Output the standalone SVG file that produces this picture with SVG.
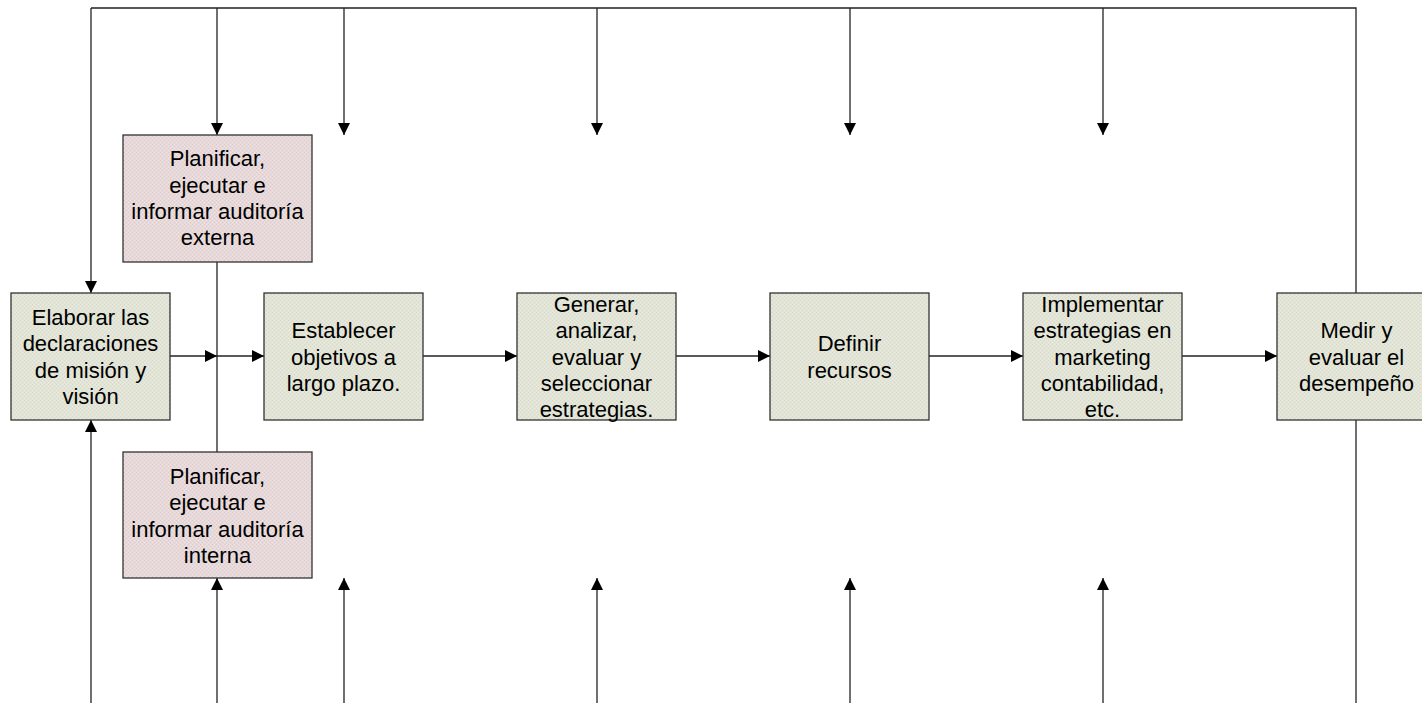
<svg xmlns="http://www.w3.org/2000/svg" width="1422" height="703" viewBox="0 0 1422 703">
  <defs>
    <!-- fine dotted fills for the process boxes -->
    <pattern id="dotsGreen" width="4" height="4" patternUnits="userSpaceOnUse">
      <rect width="4" height="4" fill="#e1e4d6"/>
      <rect x="0" y="0" width="1" height="1" fill="#d5dbc4"/>
      <rect x="2" y="2" width="1" height="1" fill="#d5dbc4"/>
      <rect x="2" y="0" width="1" height="1" fill="#eaece2"/>
      <rect x="0" y="2" width="1" height="1" fill="#eaece2"/>
    </pattern>
    <pattern id="dotsPink" width="4" height="4" patternUnits="userSpaceOnUse">
      <rect width="4" height="4" fill="#e7d9d9"/>
      <rect x="0" y="0" width="1" height="1" fill="#ddcaca"/>
      <rect x="2" y="2" width="1" height="1" fill="#ddcaca"/>
      <rect x="2" y="0" width="1" height="1" fill="#efe5e5"/>
      <rect x="0" y="2" width="1" height="1" fill="#efe5e5"/>
    </pattern>
    <marker id="arrow" markerWidth="12" markerHeight="12" refX="12" refY="6" orient="auto" markerUnits="userSpaceOnUse">
      <path d="M0,0 L12,6 L0,12 z" fill="#000"/>
    </marker>
  </defs>
  <style>
    .box-g { fill: url(#dotsGreen); stroke: #333; stroke-width: 1.3; }
    .box-p { fill: url(#dotsPink); stroke: #333; stroke-width: 1.3; }
    .lbl { font-family: "Liberation Sans", Arial, sans-serif; font-size: 22px; fill: #000; text-anchor: middle; }
    .ln { fill: none; stroke: #222; stroke-width: 1.3; }
    .arr { marker-end: url(#arrow); }
  </style>

  <rect width="1422" height="703" fill="#fff"/>

  <!-- connectors -->
  <g id="connectors">
    <!-- outer feedback frame -->
    <path class="ln" d="M91,8 H1356 V293" stroke="#000"/>
    <path class="ln arr" d="M91,8 V293"/>
    <path class="ln arr" d="M91,703 V420"/>
    <path class="ln" d="M1356,420 V703"/>
    <!-- drops from the top line -->
    <path class="ln arr" d="M217,8 V135"/>
    <path class="ln arr" d="M344,8 V135"/>
    <path class="ln arr" d="M597,8 V135"/>
    <path class="ln arr" d="M850,8 V135"/>
    <path class="ln arr" d="M1103,8 V135"/>
    <!-- rises from the bottom -->
    <path class="ln arr" d="M217,703 V578"/>
    <path class="ln arr" d="M344,703 V578"/>
    <path class="ln arr" d="M597,703 V578"/>
    <path class="ln arr" d="M850,703 V578"/>
    <path class="ln arr" d="M1103,703 V578"/>
    <!-- audit link between the two audit boxes -->
    <path class="ln" d="M217,262 V452"/>
    <!-- main process flow -->
    <path class="ln arr" d="M170,356 H217"/>
    <path class="ln arr" d="M217,356 H264"/>
    <path class="ln arr" d="M423,356 H517"/>
    <path class="ln arr" d="M676,356 H770"/>
    <path class="ln arr" d="M929,356 H1023"/>
    <path class="ln arr" d="M1182,356 H1277"/>
  </g>

  <g id="mision-vision">
    <rect class="box-g" x="11" y="293" width="159" height="127"/>
    <text class="lbl" x="90.5" y="325">Elaborar las</text>
    <text class="lbl" x="90.5" y="351">declaraciones</text>
    <text class="lbl" x="90.5" y="378">de misión y</text>
    <text class="lbl" x="90.5" y="404">visión</text>
  </g>

  <g id="auditoria-externa">
    <rect class="box-p" x="123" y="135" width="189" height="127"/>
    <text class="lbl" x="217.5" y="166">Planificar,</text>
    <text class="lbl" x="217.5" y="192.5">ejecutar e</text>
    <text class="lbl" x="217.5" y="219">informar auditoría</text>
    <text class="lbl" x="217.5" y="245">externa</text>
  </g>

  <g id="auditoria-interna">
    <rect class="box-p" x="123" y="452" width="189" height="126"/>
    <text class="lbl" x="217.5" y="484">Planificar,</text>
    <text class="lbl" x="217.5" y="510">ejecutar e</text>
    <text class="lbl" x="217.5" y="536.5">informar auditoría</text>
    <text class="lbl" x="217.5" y="563">interna</text>
  </g>

  <g id="objetivos">
    <rect class="box-g" x="264" y="293" width="159" height="127"/>
    <text class="lbl" x="343.5" y="338">Establecer</text>
    <text class="lbl" x="343.5" y="364.5">objetivos a</text>
    <text class="lbl" x="343.5" y="391">largo plazo.</text>
  </g>

  <g id="estrategias">
    <rect class="box-g" x="517" y="293" width="159" height="127"/>
    <text class="lbl" x="596.5" y="312">Generar,</text>
    <text class="lbl" x="596.5" y="338">analizar,</text>
    <text class="lbl" x="596.5" y="364.5">evaluar y</text>
    <text class="lbl" x="596.5" y="391">seleccionar</text>
    <text class="lbl" x="596.5" y="417">estrategias.</text>
  </g>

  <g id="recursos">
    <rect class="box-g" x="770" y="293" width="159" height="127"/>
    <text class="lbl" x="849.5" y="351">Definir</text>
    <text class="lbl" x="849.5" y="378">recursos</text>
  </g>

  <g id="implementar">
    <rect class="box-g" x="1023" y="293" width="159" height="127"/>
    <text class="lbl" x="1102.5" y="312">Implementar</text>
    <text class="lbl" x="1102.5" y="338">estrategias en</text>
    <text class="lbl" x="1102.5" y="364.5">marketing</text>
    <text class="lbl" x="1102.5" y="391">contabilidad,</text>
    <text class="lbl" x="1102.5" y="417">etc.</text>
  </g>

  <g id="desempeno">
    <rect class="box-g" x="1277" y="293" width="159" height="127"/>
    <text class="lbl" x="1356.5" y="338">Medir y</text>
    <text class="lbl" x="1356.5" y="364.5">evaluar el</text>
    <text class="lbl" x="1356.5" y="391">desempeño</text>
  </g>
</svg>
